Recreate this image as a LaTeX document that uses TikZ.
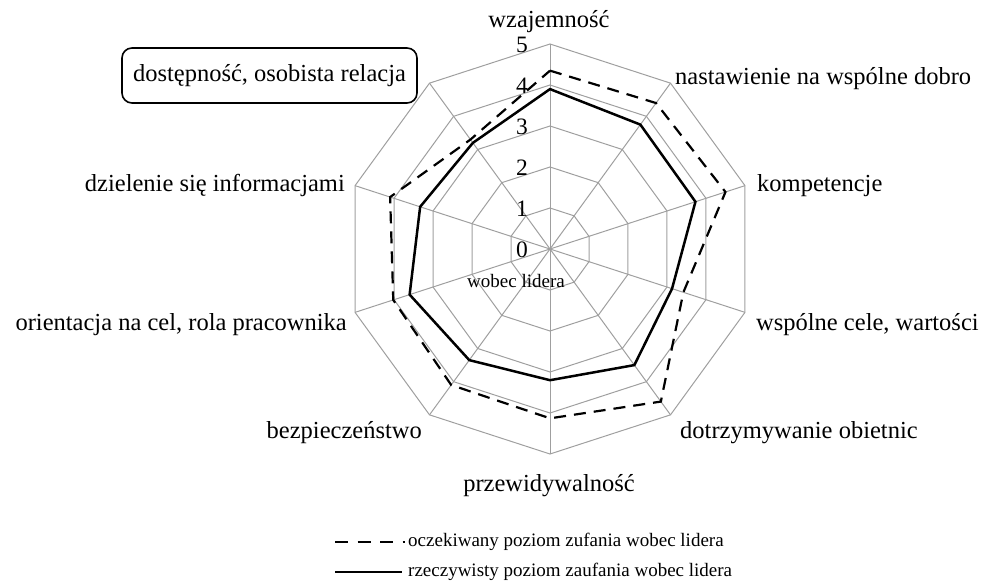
\documentclass[tikz,border=0pt]{standalone}
\usepackage{fontspec}
\setmainfont{Liberation Serif}
\usetikzlibrary{calc}
\begin{document}
\begin{tikzpicture}[x=1pt,y=1pt,
  gridline/.style={draw=gray!75, line width=1pt},
  expline/.style={draw=black, line width=2.2pt, dash pattern=on 12pt off 8pt},
  actline/.style={draw=black, line width=2.5pt},
  axlabel/.style={font=\fontsize{24.5}{28}\selectfont, inner sep=0pt},
  numlabel/.style={font=\fontsize{23.5}{26}\selectfont, inner sep=0pt, anchor=base east},
  smalllabel/.style={font=\fontsize{19}{22}\selectfont, inner sep=0pt},
  hlbox/.style={draw=black, line width=1.6pt, rounded corners=10pt, minimum width=295pt, minimum height=55pt, inner sep=0pt, font=\fontsize{24.5}{28}\selectfont}
]
\useasboundingbox (0,0) rectangle (982,582);
\coordinate (C) at (550,333);
% grid polygons
\foreach \r in {1,...,5}{
  \draw[gridline] ($(C)+(90:41*\r)$)
    \foreach \k in {1,...,9}{ -- ($(C)+(90-36*\k:41*\r)$) } -- cycle;
}
% spokes
\foreach \k in {0,...,9}{
  \coordinate (o\k) at ($(C)+(90-36*\k:205)$);
  \draw[gridline] (C) -- (o\k);
}
% data points
\foreach \v [count=\k from 0] in {4.35,4.4,4.5,3.42,4.6,4.13,4.1,4.02,4.1,3.3}{
  \coordinate (e\k) at ($(C)+(90-36*\k:41*\v)$);
}
\foreach \v [count=\k from 0] in {3.9,3.75,3.73,3.13,3.5,3.2,3.35,3.6,3.33,3.2}{
  \coordinate (a\k) at ($(C)+(90-36*\k:41*\v)$);
}
\draw[expline] (e0) -- (e1) -- (e2) -- (e3) -- (e4) -- (e5) -- (e6) -- (e7) -- (e8) -- (e9) -- cycle;
\draw[actline, line join=miter] (a0) -- (a1) -- (a2) -- (a3) -- (a4) -- (a5) -- (a6) -- (a7) -- (a8) -- (a9) -- cycle;
% scale numbers
\foreach \n in {0,...,5}{
  \node[numlabel] (n\n) at (528, 324.5+41*\n) {\n};
}
\node[smalllabel, anchor=base] (wl) at (516,295) {wobec lidera};
% axis labels
\node[axlabel, anchor=base] (l0) at (549,554) {wzajemność};
\node[axlabel, anchor=base west] (l1) at (675,497) {nastawienie na wspólne dobro};
\node[axlabel, anchor=base west] (l2) at (757,390) {kompetencje};
\node[axlabel, anchor=base west] (l3) at (756,252) {wspólne cele, wartości};
\node[axlabel, anchor=base west] (l4) at (680,144) {dotrzymywanie obietnic};
\node[axlabel, anchor=base] (l5) at (549,91) {przewidywalność};
\node[axlabel, anchor=base east] (l6) at (422,144) {bezpieczeństwo};
\node[axlabel, anchor=base east] (l7) at (347,252) {orientacja na cel, rola pracownika};
\node[axlabel, anchor=base east] (l8) at (345,390) {dzielenie się informacjami};
\node[hlbox] (l9) at (269.5,506.5) {dostępność, osobista relacja};
% legend
\coordinate (le1) at (335,40);
\coordinate (le2) at (404.5,40);
\draw[line width=2.2pt, dash pattern=on 13pt off 9.5pt] (le1) -- (le2);
\node[smalllabel, anchor=west] (lt1) at (408,40) {oczekiwany poziom zufania wobec lidera};
\coordinate (ls1) at (335,10);
\coordinate (ls2) at (402,10);
\draw[line width=2.5pt] (ls1) -- (ls2);
\node[smalllabel, anchor=west] (lt2) at (408,10) {rzeczywisty poziom zaufania wobec lidera};
\end{tikzpicture}
\end{document}
